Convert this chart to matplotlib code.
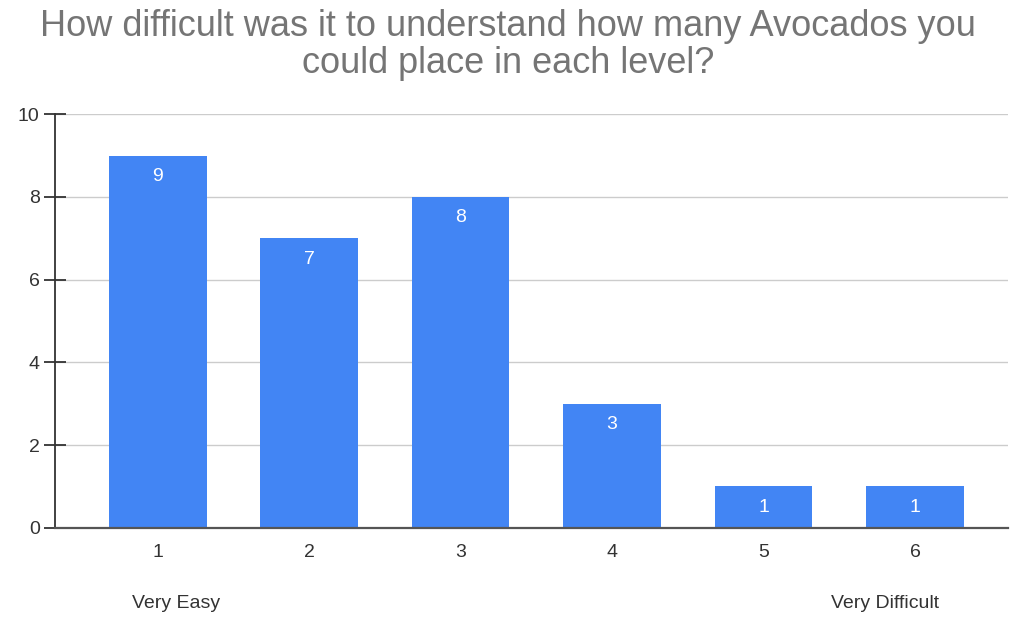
import numpy as np
import matplotlib
matplotlib.use("Agg")
import matplotlib.pyplot as plt

# ---------------------------------------------------------------------
# DATA
# ---------------------------------------------------------------------
levels = [1, 2, 3, 4, 5, 6]
counts = [9, 7, 8, 3, 1, 1]
tick_labels = ["1", "2", "3", "4", "5", "6"]
y_ticks = [0, 2, 4, 6, 8, 10]
end_labels = ["Very Easy", "Very Difficult"]
title = "How difficult was it to understand how many Avocados you\ncould place in each level?"

BLUE = "#4285F4"
TEXT_GRAY = "#757575"
DARK = "#333333"

plt.rcParams.update({
    "font.family": ["Liberation Sans", "DejaVu Sans"],
})

fig = plt.figure(figsize=(10.11, 6.17), dpi=100)
ax = fig.add_axes([55 / 1011, 1 - 527.7 / 617, (1008 - 55) / 1011, (527.7 - 114.3) / 617])

bars = ax.bar(levels, counts, width=0.645, color=BLUE, zorder=3)

for b, v in zip(bars, counts):
    ax.annotate(str(v), (b.get_x() + b.get_width() / 2, v),
                xytext=(0, -21), textcoords="offset pixels",
                ha="center", va="center", color="white", fontsize=14,
                zorder=4)

ax.set_xlim(0.322, 6.614)
ax.set_ylim(0, 10)
ax.set_yticks(y_ticks)
ax.set_xticks(levels)
ax.set_xticklabels(tick_labels)

ax.grid(axis="y", color="#cccccc", linewidth=1.0, zorder=0)
ax.axhline(0, color="#555555", linewidth=1.6, zorder=5, clip_on=False)

for side in ["top", "right", "bottom"]:
    ax.spines[side].set_visible(False)
ax.spines["left"].set_color(DARK)
ax.spines["left"].set_linewidth(1.3)

ax.tick_params(axis="y", direction="inout", length=16, width=1.3, color=DARK,
               labelsize=14, labelcolor=DARK, pad=3)
ax.tick_params(axis="x", length=0, labelsize=14, labelcolor=DARK, pad=12)

ax.text(0.127, -0.183, end_labels[0], transform=ax.transAxes,
        ha="center", va="center", fontsize=14, color=DARK)
ax.text(0.871, -0.183, end_labels[1], transform=ax.transAxes,
        ha="center", va="center", fontsize=14, color=DARK)

fig.text(0.5025, 1 - 9 / 617, title, ha="center", va="top",
         fontsize=26, color=TEXT_GRAY, linespacing=1.07)

fig.savefig("out.png", dpi=100)
